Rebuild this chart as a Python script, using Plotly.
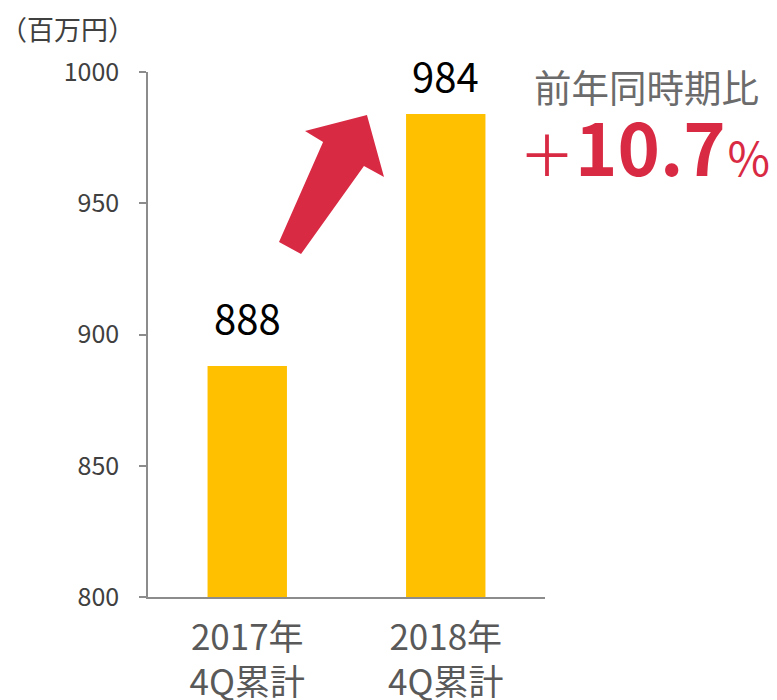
import plotly.graph_objects as go

categories = ["2017年<br>4Q累計", "2018年<br>4Q累計"]
values = [888, 984]
value_labels = ["888", "984"]
y_ticks = [800, 850, 900, 950, 1000]
unit_label = "（百万円）"
yoy_title = "前年同時期比"
yoy_value = "10.7"

FONT = "Noto Sans CJK JP"
BAR = "#FFC000"
RED = "#D92A44"
AXIS = "#8C8C8C"
LABEL_SHIFTS = (18, 8)

fig = go.Figure()
fig.add_trace(go.Bar(
    x=categories, y=values, marker=dict(color=BAR, line=dict(width=0)),
    hoverinfo="skip", showlegend=False,
))

for c, v, t, s in zip(categories, values, value_labels, LABEL_SHIFTS):
    fig.add_annotation(x=c, y=v, text=t, showarrow=False, xref="x", yref="y",
                       yanchor="bottom", yshift=s,
                       font=dict(family=FONT, size=40, color="#000000"))

# decorative block arrow (category-index / data coordinates)
arrow = [(0.160, 935.2), (0.271, 930.7), (0.588, 964.2), (0.689, 960.0),
         (0.603, 983.6), (0.291, 977.5), (0.382, 973.3)]
path = "M " + " L ".join(f"{x},{y}" for x, y in arrow) + " Z"
fig.add_shape(type="path", path=path, xref="x", yref="y",
              fillcolor=RED, line=dict(width=0), layer="above")

fig.add_annotation(x=-0.203, y=1.082, xref="paper", yref="paper", text=unit_label,
                   showarrow=False, xanchor="center", yanchor="middle",
                   font=dict(family=FONT, size=27, color="#404040"))
fig.add_annotation(x=1.256, y=0.975, xref="paper", yref="paper", text=yoy_title,
                   showarrow=False, xanchor="center", yanchor="middle",
                   font=dict(family=FONT, size=37.5, color="#6B6B6B"))
fig.add_annotation(x=1.252, y=0.862, xref="paper", yref="paper",
                   text=f"<span style='font-size:56px'>＋</span><b>{yoy_value}</b><span style='font-size:46px'>％</span>",
                   showarrow=False, xanchor="center", yanchor="middle",
                   font=dict(family=FONT, size=72, color=RED))

fig.update_layout(
    width=769, height=692,
    margin=dict(l=140, r=232, t=64, b=103, autoexpand=False),
    paper_bgcolor="white", plot_bgcolor="white",
    bargap=0.6,
    font=dict(family=FONT),
    xaxis=dict(showline=True, linecolor=AXIS, linewidth=1.5, ticks="",
               showgrid=False, zeroline=False, ticklabelstandoff=9,
               tickfont=dict(family=FONT, size=35, color="#595959")),
    yaxis=dict(range=[800, 1000], tickvals=y_ticks, showline=True, linecolor=AXIS,
               linewidth=1.5, ticks="outside", ticklen=7, tickcolor=AXIS, tickwidth=1.5,
               showgrid=False, zeroline=False, ticklabelstandoff=15,
               tickfont=dict(family=FONT, size=25, color="#404040")),
)

fig.write_html("out.html")
